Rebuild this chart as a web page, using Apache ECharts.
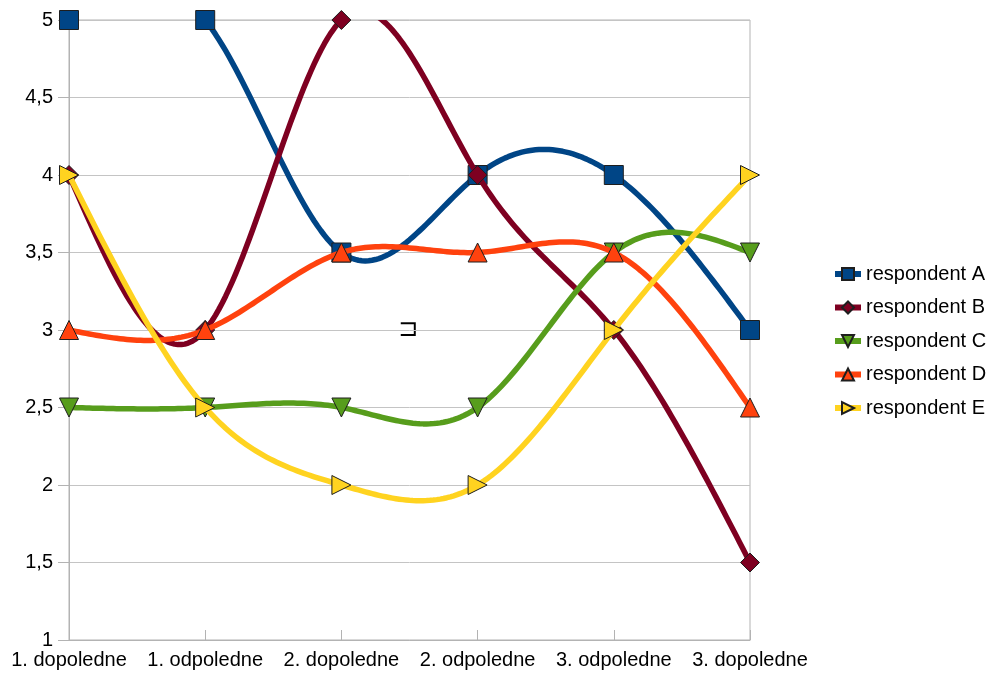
<!DOCTYPE html>
<html>
<head>
<meta charset="utf-8">
<script src="https://cdn.jsdelivr.net/npm/echarts@6/dist/echarts.min.js"></script>
<style>
  html, body { margin: 0; padding: 0; background: #fff; }
  #chart { width: 988px; height: 675px; }
</style>
</head>
<body>
<div id="chart"></div>
<script>
// Time slots (category axis)
const categories = ['1. dopoledne', '1. odpoledne', '2. dopoledne', '2. odpoledne', '3. odpoledne', '3. dopoledne'];

// Ratings per respondent
const respondentA = [5, 5, 3.5, 4, 4, 3];
const respondentB = [4, 3, 5, 4, 3, 1.5];
const respondentC = [2.5, 2.5, 2.5, 2.5, 3.5, 3.5];
const respondentD = [3, 3, 3.5, 3.5, 3.5, 2.5];
const respondentE = [4, 2.5, 2, 2, 3, 4];

const seriesNames = ['respondent A', 'respondent B', 'respondent C', 'respondent D', 'respondent E'];
const yTicks = { min: 1, max: 5, interval: 0.5 };

const seriesValues = [respondentA, respondentB, respondentC, respondentD, respondentE];
const colors = ['#004586', '#7e0021', '#579d1c', '#ff420e', '#ffd320'];
const symbols = ['rect', 'diamond', 'triangle', 'triangle', 'triangle'];
const rotations = [0, 0, 180, 0, -90];
const FONT = '"Liberation Sans", Arial, sans-serif';

// Second derivatives of a natural cubic spline through equally spaced values
function naturalSpline(y) {
  const n = y.length;
  const M = new Array(n).fill(0);
  if (n < 3) return M;
  const m = n - 2;
  const a = [], b = [], c = [], d = [];
  for (let i = 1; i <= m; i++) {
    a.push(1); b.push(4); c.push(1);
    d.push(6 * (y[i + 1] - 2 * y[i] + y[i - 1]));
  }
  for (let i = 1; i < m; i++) {
    const w = a[i] / b[i - 1];
    b[i] -= w * c[i - 1];
    d[i] -= w * d[i - 1];
  }
  const x = new Array(m);
  x[m - 1] = d[m - 1] / b[m - 1];
  for (let i = m - 2; i >= 0; i--) x[i] = (d[i] - c[i] * x[i + 1]) / b[i];
  for (let i = 0; i < m; i++) M[i + 1] = x[i];
  return M;
}

function splineAt(y, M, i, u) {
  const v = 1 - u;
  return v * y[i] + u * y[i + 1] + ((v * v * v - v) * M[i] + (u * u * u - u) * M[i + 1]) / 6;
}

function makeCurveRenderer(values, color) {
  const M = naturalSpline(values);
  return function (params, api) {
    const i = params.dataIndex;
    if (i >= values.length - 1) return null;
    const p0 = api.coord([i, values[i]]);
    const p1 = api.coord([i + 1, values[i + 1]]);
    const pts = [];
    const steps = 40;
    for (let s = 0; s <= steps; s++) {
      const u = s / steps;
      const x = p0[0] + (p1[0] - p0[0]) * u;
      const y = api.coord([i, splineAt(values, M, i, u)])[1];
      pts.push([x, y]);
    }
    return {
      type: 'polyline',
      shape: { points: pts },
      style: { stroke: color, lineWidth: 5.5, fill: null, lineJoin: 'round', lineCap: 'butt' }
    };
  };
}

const series = [];
// Marker series first so the legend takes its icon from them
seriesValues.forEach(function (vals, k) {
  series.push({
    name: seriesNames[k],
    type: 'line',
    data: vals,
    z: 11 + 2 * k,
    symbol: symbols[k],
    symbolSize: 19,
    symbolRotate: rotations[k],
    showAllSymbol: true,
    lineStyle: { color: colors[k], opacity: 0, width: 6 },
    itemStyle: { color: colors[k], borderColor: '#1e1e1e', borderWidth: 1 },
    emphasis: { disabled: true },
    animation: false
  });
});
seriesValues.forEach(function (vals, k) {
  series.push({
    name: seriesNames[k],
    type: 'custom',
    clip: true,
    z: 10 + 2 * k,
    data: vals.map(function (v, i) { return [i, v]; }),
    encode: { x: 0, y: 1 },
    renderItem: makeCurveRenderer(vals, colors[k]),
    silent: true,
    animation: false
  });
});

const chart = echarts.init(document.getElementById('chart'), null, { renderer: 'canvas' });
chart.setOption({
  backgroundColor: '#ffffff',
  animation: false,
  grid: {
    left: 69, right: 238, top: 20, bottom: 35,
    show: true, borderColor: '#b3b3b3', borderWidth: 1,
    containLabel: false, outerBoundsMode: 'none'
  },
  xAxis: {
    type: 'category',
    data: categories,
    boundaryGap: false,
    axisLine: { lineStyle: { color: '#b3b3b3', width: 1 } },
    axisTick: { show: true, inside: true, length: 10, alignWithLabel: true, lineStyle: { color: '#b3b3b3' } },
    axisLabel: { interval: 0, margin: 10, color: '#000', fontSize: 20, fontFamily: FONT },
    splitLine: { show: false }
  },
  yAxis: {
    type: 'value',
    min: yTicks.min, max: yTicks.max, interval: yTicks.interval,
    axisLine: { show: true, lineStyle: { color: '#b3b3b3', width: 1 } },
    axisTick: { show: true, length: 11, lineStyle: { color: '#b3b3b3' } },
    axisLabel: {
      margin: 16, color: '#000', fontSize: 20, fontFamily: FONT,
      formatter: function (v) { return String(v).replace('.', ','); }
    },
    splitLine: { show: true, lineStyle: { color: '#c4c4c4', width: 1 } }
  },
  legend: {
    orient: 'vertical',
    left: 832, top: 264,
    padding: 0,
    itemWidth: 26, itemHeight: 15, itemGap: 13.5,
    selectedMode: false,
    textStyle: { color: '#000', fontSize: 20, fontFamily: FONT, lineHeight: 20 },
    data: seriesNames.map(function (n) {
      return { name: n, lineStyle: { opacity: 1, width: 6 } };
    })
  },
  graphic: [{
    type: 'text',
    x: 398, y: 330,
    silent: true,
    style: { text: '⊐', font: '24px "DejaVu Sans"', fill: '#000', verticalAlign: 'middle', align: 'left' }
  }],
  series: series
});
</script>
</body>
</html>
